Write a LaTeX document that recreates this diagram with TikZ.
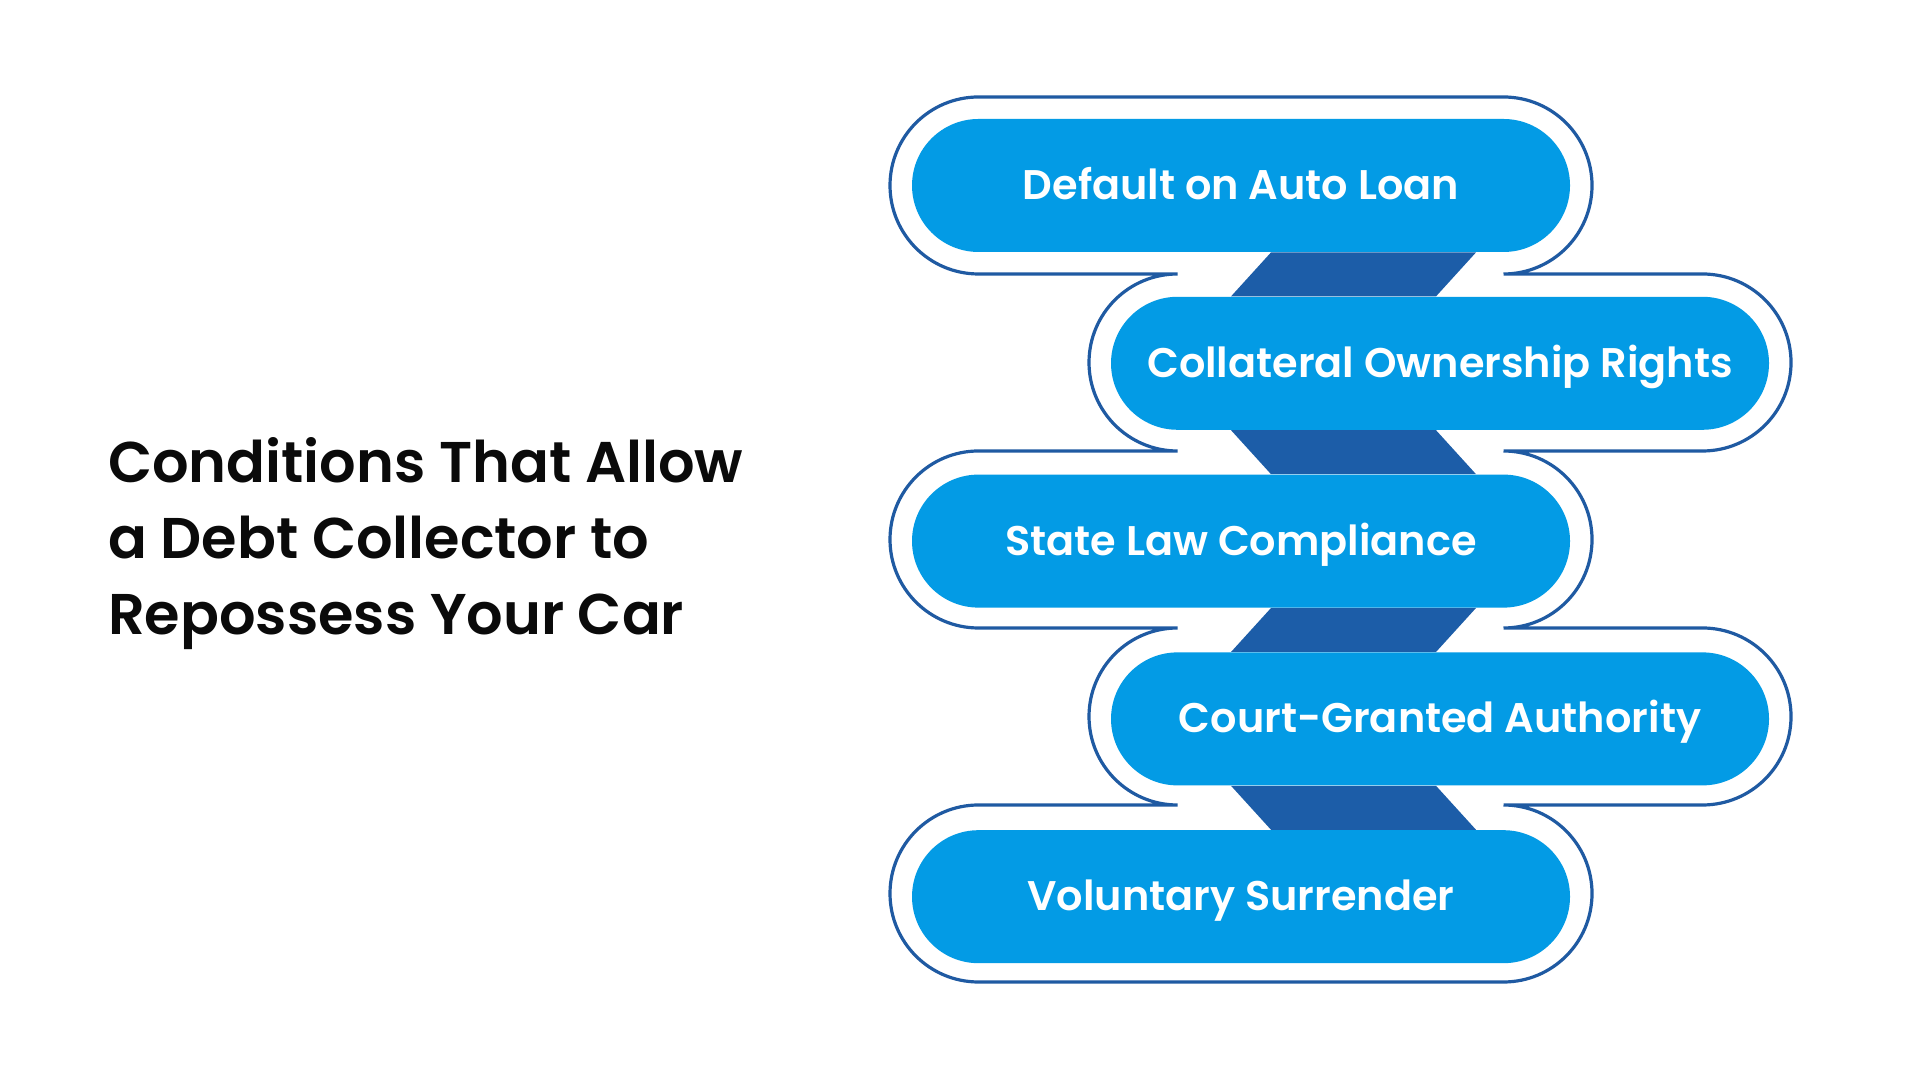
\documentclass[tikz,border=0pt]{standalone}
\usepackage{fontspec}
\setmainfont{Poppins}[UprightFont=* SemiBold,BoldFont=* Bold]
\usepackage{xcolor}
\usepackage{tikz}
\usetikzlibrary{positioning,backgrounds}
\definecolor{pillblue}{HTML}{039BE5}
\definecolor{linkblue}{HTML}{1C5DA8}
\definecolor{rimblue}{HTML}{1F5AA2}
\definecolor{ink}{HTML}{0A0A0A}
\tikzset{
  pill/.style={rectangle,fill=pillblue,rounded corners=33.25pt,minimum width=329pt,
               minimum height=66.5pt,inner sep=0pt,text=white,text height=15pt,text depth=1pt,
               font=\fontsize{20.7}{24}\selectfont},
  link/.style={fill=linkblue},
  rim/.style={draw=rimblue,line width=1.6pt},
  headline/.style={anchor=west,align=left,text=ink,font=\fontsize{28.7}{38}\selectfont}
}

\begin{document}
\begin{tikzpicture}[x=0.5pt,y=0.5pt]
  \useasboundingbox (0,0) rectangle (1920,1080);
  \node[headline] (head) at (101,536) {Conditions That Allow\\a Debt Collector to\\Repossess Your Car};
  % outer rim round the zigzag of pills
  \draw[rim] (978.5,983) -- (1503.5,983) arc[start angle=90,end angle=-90,radius=88.5]
    -- (1702.5,806) arc[start angle=90,end angle=-90,radius=88.5]
    -- (1503.5,629) arc[start angle=90,end angle=-90,radius=88.5]
    -- (1702.5,452) arc[start angle=90,end angle=-90,radius=88.5]
    -- (1503.5,275) arc[start angle=90,end angle=-90,radius=88.5]
    -- (978.5,98) arc[start angle=270,end angle=90,radius=88.5]
    -- (1177.5,275) arc[start angle=270,end angle=90,radius=88.5]
    -- (978.5,452) arc[start angle=270,end angle=90,radius=88.5]
    -- (1177.5,629) arc[start angle=270,end angle=90,radius=88.5]
    -- (978.5,806) arc[start angle=270,end angle=90,radius=88.5] -- cycle;
  \node[pill] (p1) at (1241,894.5) {Default on Auto Loan};
  \node[pill,below=22pt of p1,xshift=99.5pt] (p2) {Collateral Ownership Rights};
  \node[pill,below=22pt of p2,xshift=-99.5pt] (p3) {State Law Compliance};
  \node[pill,below=22pt of p3,xshift=99.5pt] (p4) {Court-Granted Authority};
  \node[pill,below=22pt of p4,xshift=-99.5pt] (p5) {Voluntary Surrender};
  \coordinate (ka) at (1231,0); \coordinate (kb) at (1271,0);
  \coordinate (kc) at (1436,0); \coordinate (kd) at (1476,0);
  \begin{scope}[on background layer]
    \fill[white] (0,0) rectangle (1920,1080);
    \fill[link] (p1.south -| kb) -- (p1.south -| kd) -- (p2.north -| kc) -- (p2.north -| ka) -- cycle;
    \fill[link] (p2.south -| ka) -- (p2.south -| kc) -- (p3.north -| kd) -- (p3.north -| kb) -- cycle;
    \fill[link] (p3.south -| kb) -- (p3.south -| kd) -- (p4.north -| kc) -- (p4.north -| ka) -- cycle;
    \fill[link] (p4.south -| ka) -- (p4.south -| kc) -- (p5.north -| kd) -- (p5.north -| kb) -- cycle;
  \end{scope}
\end{tikzpicture}
\end{document}
